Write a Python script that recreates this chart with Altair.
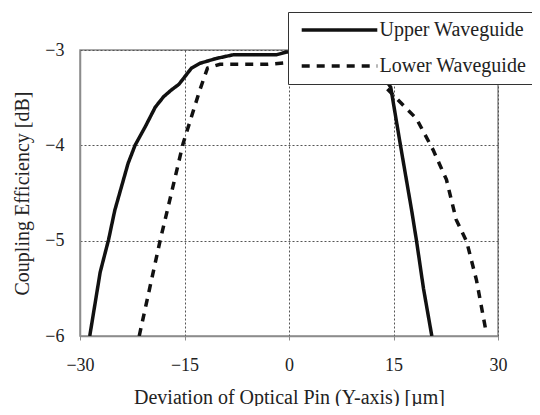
import altair as alt
import pandas as pd

# Upper waveguide (solid)
upper_x = [-28.6, -27.1, -25.9, -25.0, -23.1, -22.1, -20.6, -19.2, -18.0, -16.9, -15.8,
           -14.0, -12.8, -10.5, -8.0, -4.0, -1.8, -0.3, 2.0, 6.0, 10.0, 13.0, 14.6,
           16.0, 17.6, 18.3, 19.3, 20.5]
upper_y = [-6.0, -5.33, -4.99, -4.68, -4.19, -4.0, -3.8, -3.6, -3.49, -3.42, -3.36,
           -3.19, -3.14, -3.09, -3.05, -3.05, -3.05, -3.02, -3.02, -3.04, -3.1, -3.22, -3.39,
           -4.0, -4.68, -5.0, -5.5, -6.0]

# Lower waveguide (dashed)
lower_x = [-21.5, -18.5, -17.1, -15.2, -14.0, -12.8, -11.7, -9.9, -6.0, -3.0, 0.0,
           5.0, 10.0, 13.0, 14.0, 16.4, 18.3, 20.7, 22.6, 24.0, 25.5, 26.9, 28.3]
lower_y = [-6.0, -5.0, -4.57, -3.98, -3.70, -3.42, -3.19, -3.15, -3.15, -3.15, -3.13,
           -3.14, -3.2, -3.3, -3.4, -3.58, -3.72, -4.05, -4.36, -4.78, -5.01, -5.41, -5.96]

series = ["Upper Waveguide", "Lower Waveguide"]
x_ticks = [-30, -15, 0, 15, 30]
y_ticks = [-6, -5, -4, -3]

df = pd.concat([
    pd.DataFrame({"x": upper_x, "y": upper_y, "s": series[0], "o": range(len(upper_x))}),
    pd.DataFrame({"x": lower_x, "y": lower_y, "s": series[1], "o": range(len(lower_x))}),
])

FONT = "Liberation Serif"

chart = alt.Chart(df).mark_line(clip=True, strokeWidth=3.5, color="#111").encode(
    x=alt.X("x:Q", scale=alt.Scale(domain=[-30, 30], nice=False),
            axis=alt.Axis(values=x_ticks, title="Deviation of Optical Pin (Y-axis) [µm]",
                          titlePadding=13, labelPadding=16, tickSize=4, labelFlush=False)),
    y=alt.Y("y:Q", scale=alt.Scale(domain=[-6, -3], nice=False, zero=False),
            axis=alt.Axis(values=y_ticks, title="Coupling Efficiency [dB]",
                          titlePadding=12, labelPadding=16, ticks=False, labelFlush=False)),
    strokeDash=alt.StrokeDash("s:N", scale=alt.Scale(domain=series, range=[[1, 0], [8, 7]]),
                              legend=alt.Legend(title=None, orient="none", legendX=208, legendY=-38,
                                                fillColor="white", strokeColor="#333",
                                                padding=8, symbolOffset=33.5, symbolType="M-8.4,0H8.4",
                                                symbolSize=81, symbolStrokeWidth=3.5,
                                                symbolStrokeColor="#111", rowPadding=16,
                                                labelFont=FONT, labelFontSize=20,
                                                labelColor="#222", labelOffset=30,
                                                labelExpr="datum.label + '          '")),
    order="o:Q",
).properties(
    width=418, height=286,
    autosize=alt.AutoSizeParams(type="none"),
    padding={"left": 72, "top": 42, "right": 34, "bottom": 70},
).configure_view(
    stroke="#8c8c8c", strokeWidth=1.5
).configure_axis(
    labelFont=FONT, labelFontSize=18, labelColor="#222",
    titleFont=FONT, titleFontSize=20, titleColor="#222", titleFontWeight="normal",
    domainColor="#8c8c8c", domainWidth=1.5, tickColor="#8c8c8c",
    gridColor="#555", gridDash=[2, 2], gridWidth=1, gridOpacity=1,
)

chart.save("out.html", embed_options={"renderer": "svg", "actions": False})
